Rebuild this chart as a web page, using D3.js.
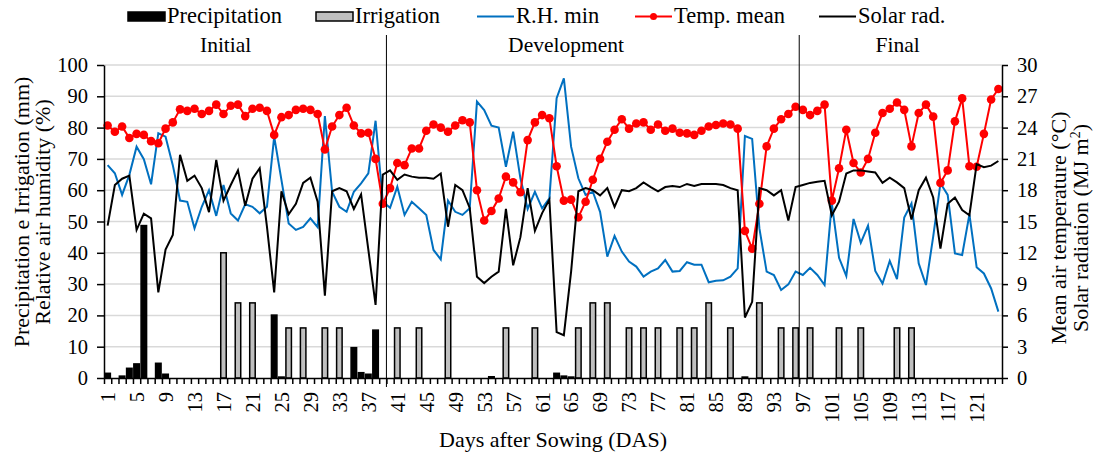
<!DOCTYPE html>
<html>
<head>
<meta charset="utf-8">
<script src="https://cdn.jsdelivr.net/npm/d3@7"></script>
<style>
  body { margin: 0; background: #fff; }
  svg text { font-family: "Liberation Serif", "Times New Roman", serif; fill: #000; }
</style>
</head>
<body>
<svg id="chart" width="1096" height="453"></svg>
<script>
// Days after sowing 1..124
const days = d3.range(1, 125);
const tickLabels = [1, 5, 9, 13, 17, 21, 25, 29, 33, 37, 41, 45, 49, 53, 57, 61, 65, 69, 73, 77, 81, 85, 89, 93, 97, 101, 105, 109, 113, 117, 121];
const leftTicks = [0, 10, 20, 30, 40, 50, 60, 70, 80, 90, 100];
const rightTicks = [0, 3, 6, 9, 12, 15, 18, 21, 24, 27, 30];

// mm
const precipitation = [
  1.5, 0, 0.6, 3.1, 4.5, 48.7, 0, 4.7, 1.2, 0,
  0, 0, 0, 0, 0, 0, 0, 0, 0, 0,
  0, 0, 0, 20.1, 0.3, 0, 0, 0, 0, 0,
  0, 0, 0, 0, 9.7, 1.7, 1.2, 15.3, 0, 0,
  0, 0, 0, 0, 0, 0, 0, 0, 0, 0,
  0, 0, 0, 0.4, 0, 0, 0, 0, 0, 0,
  0, 0, 1.5, 0.6, 0.3, 0, 0, 0, 0, 0,
  0, 0, 0, 0, 0, 0, 0, 0, 0, 0,
  0, 0, 0, 0, 0, 0, 0, 0, 0.3, 0,
  0, 0, 0, 0, 0, 0, 0, 0, 0, 0,
  0, 0, 0, 0, 0, 0, 0, 0, 0, 0,
  0, 0, 0, 0, 0, 0, 0, 0, 0, 0,
  0, 0, 0, 0
];

const irrigation = [
  0, 0, 0, 0, 0, 0, 0, 0, 0, 0,
  0, 0, 0, 0, 0, 0, 40, 0, 24, 0,
  24, 0, 0, 0, 0, 16, 0, 16, 0, 0,
  16, 0, 16, 0, 0, 0, 0, 0, 0, 0,
  16, 0, 0, 16, 0, 0, 0, 24, 0, 0,
  0, 0, 0, 0, 0, 16, 0, 0, 0, 16,
  0, 0, 0, 0, 0, 16, 0, 24, 0, 24,
  0, 0, 16, 0, 16, 0, 16, 0, 0, 16,
  0, 16, 0, 24, 0, 0, 16, 0, 0, 0,
  24, 0, 0, 16, 0, 16, 0, 16, 0, 0,
  0, 16, 0, 0, 16, 0, 0, 0, 0, 16,
  0, 16, 0, 0, 0, 0, 0, 0, 0, 0,
  0, 0, 0, 0
];

// %
const rhMin = [
  68, 65.4, 58.5, 64.9, 73.9, 69.9, 61.9, 78.2, 77.1, 68,
  56.7, 56.3, 47.8, 54.7, 60, 51.8, 61.7, 52.6, 50.3, 55.5,
  54.7, 52.6, 54.7, 77.1, 63.3, 49.4, 47.3, 48.3, 51.0, 48.2,
  83.7, 59.5, 54.7, 53.1, 59.5, 62.2, 65.4, 82.2, 56.3, 54.4,
  61.1, 52.1, 56.3, 54.2, 52.1, 40.9, 37.9, 56.7, 53.1, 52.1,
  54.2, 88.3, 85.6, 80.6, 80.0, 67.5, 78.7, 63.8, 54.0, 59.5,
  54.2, 57.4, 89.4, 95.7, 73.9, 63.8, 58.5, 59.5, 53.1, 38.8,
  45.4, 40.4, 37.2, 35.6, 32.4, 34.0, 35.0, 37.7, 34.0, 34.2,
  37.0, 36.2, 36.2, 30.6, 31.1, 31.2, 32.4, 35.0, 77.3, 76.4,
  47.8, 34.0, 32.9, 28.1, 29.9, 34.0, 32.9, 35.2, 32.9, 29.7,
  55.8, 38.4, 32.6, 50.8, 43.2, 48.7, 34.2, 30.2, 37.4, 31.6,
  51.3, 55.8, 36.6, 29.7, 45.2, 62.2, 58.5, 39.8, 39.3, 52.3,
  35.4, 33.4, 28.6, 21.2
];

// degrees C
const tempMean = [
  24.2, 23.6, 24.1, 23.0, 23.4, 23.3, 22.7, 22.5, 23.9, 24.5,
  25.75, 25.6, 25.8, 25.3, 25.6, 26.2, 25.3, 26.1, 26.2, 25.1,
  25.8, 25.9, 25.6, 23.3, 25.0, 25.2, 25.7, 25.8, 25.7, 25.3,
  21.9, 24.1, 25.2, 25.9, 24.2, 23.45, 23.5, 21.0, 16.7, 18.2,
  20.6, 20.4, 22.0, 22.0, 23.7, 24.3, 24.0, 23.6, 24.2, 24.7,
  24.5, 18.0, 15.1, 16.0, 17.2, 19.3, 18.75, 17.8, 22.8, 24.5,
  25.2, 24.9, 20.3, 17.0, 17.1, 15.4, 16.9, 19.0, 21.0, 22.65,
  23.8, 24.8, 23.9, 24.4, 24.5, 23.8, 24.3, 23.7, 23.9, 23.5,
  23.45, 23.3, 23.7, 24.1, 24.25, 24.4, 24.3, 23.9, 14.1, 12.4,
  16.7, 22.2, 23.9, 24.8, 25.3, 26.0, 25.7, 25.2, 25.6, 26.2,
  17.0, 20.1, 23.8, 20.6, 19.7, 21.0, 23.5, 25.4, 25.8, 26.4,
  25.7, 22.2, 25.4, 26.2, 25.05, 18.7, 19.9, 24.6, 26.8, 20.3,
  20.25, 23.4, 26.7, 27.7
];

// MJ m-2
const solarRad = [
  14.6, 18.5, 19.1, 19.4, 14.2, 15.75, 15.3, 8.2, 12.3, 13.7,
  21.4, 18.9, 19.4, 18.2, 15.9, 20.9, 17.0, 18.5, 19.9, 16.5,
  19.1, 20.1, 14.5, 8.2, 17.9, 15.7, 16.7, 18.7, 19.2, 16.9,
  7.9, 17.9, 18.2, 17.9, 16.2, 17.6, 12.3, 7.0, 19.5, 19.9,
  19.0, 19.5, 19.3, 19.2, 19.2, 19.1, 19.6, 14.5, 18.5, 18.0,
  16.3, 9.7, 9.1, 9.7, 10.2, 16.2, 10.8, 13.5, 18.2, 14.1,
  15.8, 17.1, 4.4, 4.1, 10.2, 17.9, 18.2, 18.0, 17.5, 18.2,
  16.4, 18.0, 17.9, 18.2, 18.75, 18.3, 17.9, 18.3, 18.4, 18.3,
  18.6, 18.4, 18.6, 18.6, 18.6, 18.5, 18.2, 18.0, 5.8, 7.3,
  18.2, 18.0, 17.5, 18.0, 15.1, 18.3, 18.5, 18.7, 18.8, 18.9,
  15.6, 16.9, 19.6, 19.9, 19.9, 19.8, 19.7, 18.7, 19.2, 18.75,
  18.2, 15.2, 18.0, 19.2, 17.3, 12.4, 16.7, 17.3, 16.1, 15.6,
  20.5, 20.2, 20.35, 20.8
];

// growth phases: name, last day of phase
const phaseNames = ["Initial", "Development", "Final"];
const phaseEnds = [39, 96, 124];

// layout
const plotLeft = 104, plotRight = 1002, plotTop = 65, plotBottom = 378;
const svg = d3.select("#chart");

const x = d3.scaleBand().domain(days).range([plotLeft, plotRight]).padding(0);
const xb = d3.scaleLinear().domain([0, days.length]).range([plotLeft, plotRight]);
const yL = d3.scaleLinear().domain([0, 100]).range([plotBottom, plotTop]);
const yR = d3.scaleLinear().domain([0, 30]).range([plotBottom, plotTop]);

// gridlines
svg.append("g")
  .selectAll("line")
  .data(leftTicks.filter(d => d > 0))
  .enter().append("line")
  .attr("x1", plotLeft).attr("x2", plotRight)
  .attr("y1", d => yL(d)).attr("y2", d => yL(d))
  .attr("stroke", "#d9d9d9").attr("stroke-width", 1.5);

// bars
const bw = x.bandwidth();
function drawBars(values, fill) {
  svg.append("g")
    .selectAll("rect")
    .data(days.filter((d, i) => values[i] > 0))
    .enter().append("rect")
    .attr("x", d => x(d) + bw * 0.12)
    .attr("width", bw * 0.76)
    .attr("y", d => yL(values[d - 1]))
    .attr("height", d => plotBottom - yL(values[d - 1]))
    .attr("fill", fill)
    .attr("stroke", "#000")
    .attr("stroke-width", 1.5);
}
drawBars(precipitation, "#000");
drawBars(irrigation, "#bfbfbf");

const cx = d => x(d) + bw / 2;

// R.H. min
svg.append("path")
  .datum(days)
  .attr("fill", "none").attr("stroke", "#0070c0").attr("stroke-width", 2)
  .attr("d", d3.line().x(cx).y(d => yL(rhMin[d - 1])));

// Temp mean
svg.append("path")
  .datum(days)
  .attr("fill", "none").attr("stroke", "#ff0000").attr("stroke-width", 2)
  .attr("d", d3.line().x(cx).y(d => yR(tempMean[d - 1])));
svg.append("g")
  .selectAll("circle")
  .data(days)
  .enter().append("circle")
  .attr("cx", cx).attr("cy", d => yR(tempMean[d - 1]))
  .attr("r", 4.3).attr("fill", "#ff0000");

// Solar rad.
svg.append("path")
  .datum(days)
  .attr("fill", "none").attr("stroke", "#000").attr("stroke-width", 2)
  .attr("d", d3.line().x(cx).y(d => yR(solarRad[d - 1])));

// axes
function styleAxis(g, size) {
  g.selectAll("path, line").attr("stroke", "#000").attr("stroke-width", 1.5);
  g.selectAll("text").attr("font-size", size);
  g.attr("font-family", null).attr("font-size", null);
}

svg.append("g")
  .attr("transform", `translate(${plotLeft},0)`)
  .call(d3.axisLeft(yL).tickValues(leftTicks).tickSize(7).tickPadding(9).tickSizeOuter(0))
  .call(g => styleAxis(g, 20.5));

svg.append("g")
  .attr("transform", `translate(${plotRight},0)`)
  .call(d3.axisRight(yR).tickValues(rightTicks).tickSize(6).tickPadding(9).tickSizeOuter(0))
  .call(g => styleAxis(g, 20.5));

// minor ticks between categories
svg.append("g")
  .attr("transform", `translate(0,${plotBottom})`)
  .call(d3.axisBottom(xb).tickValues(d3.range(0, days.length + 1)).tickSize(6).tickFormat("").tickSizeOuter(0))
  .call(g => styleAxis(g, 20));

// category labels
svg.append("g")
  .attr("transform", `translate(0,${plotBottom})`)
  .call(d3.axisBottom(x).tickValues(tickLabels).tickSize(0))
  .call(g => {
    g.select(".domain").remove();
    styleAxis(g, 20.5);
    g.selectAll("text")
      .attr("transform", "rotate(-90)")
      .attr("text-anchor", "end")
      .attr("x", -14).attr("y", 0).attr("dy", "0.36em");
  });

// phase separators and labels
svg.append("g")
  .selectAll("line")
  .data(phaseEnds.slice(0, 2))
  .enter().append("line")
  .attr("x1", d => xb(d)).attr("x2", d => xb(d))
  .attr("y1", 35).attr("y2", 387)
  .attr("stroke", "#000").attr("stroke-width", 1);

const phaseLabelAt = [16.8, 63.8, 109.6];
svg.append("g")
  .selectAll("text")
  .data(phaseNames)
  .enter().append("text")
  .attr("x", (d, i) => xb(phaseLabelAt[i]))
  .attr("y", 52)
  .attr("text-anchor", "middle")
  .attr("font-size", 21.5)
  .text(d => d);

// axis titles
svg.append("text")
  .attr("transform", "translate(29,212) rotate(-90)")
  .attr("text-anchor", "middle").attr("font-size", 22)
  .text("Precipitation e Irrigation (mm)");
svg.append("text")
  .attr("transform", "translate(50,212) rotate(-90)")
  .attr("text-anchor", "middle").attr("font-size", 22)
  .text("Relative air humidity (%)");

svg.append("text")
  .attr("transform", "translate(1066,228) rotate(-90)")
  .attr("text-anchor", "middle").attr("font-size", 22)
  .text("Mean air temperature (°C)");
const sr = svg.append("text")
  .attr("transform", "translate(1088,228) rotate(-90)")
  .attr("text-anchor", "middle").attr("font-size", 22);
sr.append("tspan").text("Solar radiation (MJ m");
sr.append("tspan").attr("dy", -8).attr("font-size", 14).text("2");
sr.append("tspan").attr("dy", 8).text(")");

svg.append("text")
  .attr("x", (plotLeft + plotRight) / 2).attr("y", 447)
  .attr("text-anchor", "middle").attr("font-size", 22)
  .text("Days after Sowing (DAS)");

// legend
const legend = [
  { name: "Precipitation", type: "bar", fill: "#000", x: 128 },
  { name: "Irrigation", type: "bar", fill: "#bfbfbf", x: 316 },
  { name: "R.H. min", type: "line", color: "#0070c0", x: 477 },
  { name: "Temp. mean", type: "marker", color: "#ff0000", x: 635 },
  { name: "Solar rad.", type: "line", color: "#000", x: 819 }
];
const lg = svg.append("g").selectAll("g").data(legend).enter().append("g")
  .attr("transform", d => `translate(${d.x},0)`);
lg.filter(d => d.type === "bar").append("rect")
  .attr("x", 0).attr("y", 12).attr("width", 37).attr("height", 9)
  .attr("fill", d => d.fill).attr("stroke", "#000").attr("stroke-width", 1.5);
lg.filter(d => d.type !== "bar").append("line")
  .attr("x1", 0).attr("x2", 37).attr("y1", 16.5).attr("y2", 16.5)
  .attr("stroke", d => d.color).attr("stroke-width", 2);
lg.filter(d => d.type === "marker").append("circle")
  .attr("cx", 18.5).attr("cy", 16.5).attr("r", 3.5).attr("fill", d => d.color);
lg.append("text")
  .attr("x", 39).attr("y", 23)
  .attr("font-size", 22.5)
  .text(d => d.name);
</script>
</body>
</html>
